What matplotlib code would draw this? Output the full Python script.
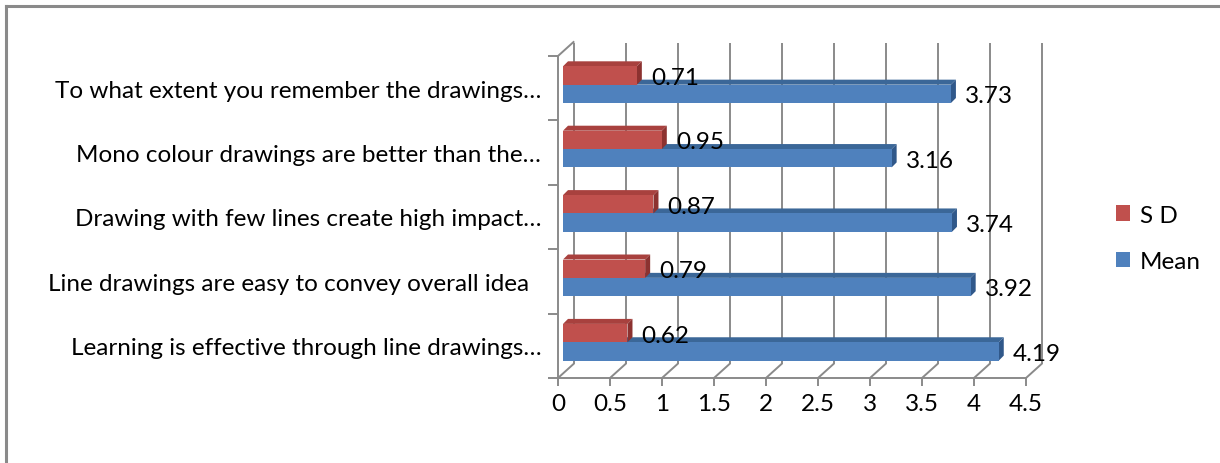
import matplotlib
matplotlib.use("Agg")
import matplotlib.pyplot as plt
from matplotlib.patches import Polygon, Patch
from matplotlib.lines import Line2D

plt.rcParams["font.family"] = ["Lato", "DejaVu Sans"]

# Survey items, bottom to top
categories = [
    "Learning is effective through line drawings\u2026",
    "Line drawings are easy to convey overall idea  ",
    "Drawing with few lines create high impact\u2026",
    "Mono colour drawings are better than the\u2026",
    "To what extent you remember the drawings\u2026",
]
mean_values = [4.19, 3.92, 3.74, 3.16, 3.73]
sd_values = [0.62, 0.79, 0.87, 0.95, 0.71]
x_ticks = [0, 0.5, 1, 1.5, 2, 2.5, 3, 3.5, 4, 4.5]
x_tick_labels = ["0", "0.5", "1", "1.5", "2", "2.5", "3", "3.5", "4", "4.5"]
series_names = ["S D", "Mean"]

FS = 17.5

W, H, DPI = 1220, 464, 100
fig = plt.figure(figsize=(W / DPI, H / DPI), dpi=DPI)
fig.patch.set_facecolor("white")

# plot area in pixels (front plane)
px_left, px_right = 558, 1026
px_top, px_bottom = 57, 379
ax = fig.add_axes([px_left / W, 1 - px_bottom / H,
                   (px_right - px_left) / W, (px_bottom - px_top) / H])
ax.set_xlim(0, 4.5)
ax.set_ylim(0, 5)
ax.set_facecolor("none")

sx = (px_right - px_left) / 4.5          # px per value unit
sy = (px_bottom - px_top) / 5.0          # px per category

# depth of the back wall and of the bars
wall_dx, wall_dy = 15.5 / sx, 14.0 / sy
bar_dx, bar_dy = 5.0 / sx, 5.0 / sy
bar_x0 = 5.0 / sx

grid_col = "#8a8a8a"
glw = 1.4

# back wall gridlines and floor diagonals
for v in x_ticks:
    ax.plot([v + wall_dx, v + wall_dx], [wall_dy, 5 + wall_dy - 0.02],
            color=grid_col, lw=glw, clip_on=False, zorder=1,
            solid_capstyle="butt")
    ax.plot([v, v + wall_dx], [0, wall_dy], color=grid_col, lw=glw,
            clip_on=False, zorder=1)
ax.plot([0, wall_dx], [5, 5 + wall_dy], color=grid_col, lw=glw,
        clip_on=False, zorder=1)

# front axis lines
for s in ["top", "right"]:
    ax.spines[s].set_visible(False)
for s in ["left", "bottom"]:
    ax.spines[s].set_color(grid_col)
    ax.spines[s].set_linewidth(glw)
    ax.spines[s].set_zorder(2)

ax.set_xticks(x_ticks)
ax.set_xticklabels(x_tick_labels, fontsize=FS)
ax.tick_params(axis="x", length=6, width=glw, color=grid_col, pad=4.5)

ax.set_yticks(range(6))
ax.set_yticklabels([])
ax.tick_params(axis="y", which="major", length=7, width=glw, color=grid_col)
ax.set_yticks([i + 0.5 for i in range(5)], minor=True)
ax.set_yticklabels(categories, minor=True, fontsize=FS)
ax.tick_params(axis="y", which="minor", length=0, pad=12)


def draw_bar(y0, h, v, front, top, side):
    x0 = bar_x0
    x1 = bar_x0 + v
    y1 = y0 + h
    ax.add_patch(Polygon([(x0, y1), (x1, y1), (x1 + bar_dx, y1 + bar_dy),
                          (x0 + bar_dx, y1 + bar_dy)], closed=True,
                         facecolor=top, edgecolor="none", zorder=3,
                         clip_on=False))
    ax.add_patch(Polygon([(x1, y0), (x1 + bar_dx, y0 + bar_dy),
                          (x1 + bar_dx, y1 + bar_dy), (x1, y1)], closed=True,
                         facecolor=side, edgecolor="none", zorder=3,
                         clip_on=False))
    ax.add_patch(Polygon([(x0, y0), (x1, y0), (x1, y1), (x0, y1)],
                         closed=True, facecolor=front, edgecolor="none",
                         zorder=3, clip_on=False))


blue = ("#4f81bd", "#3b6798", "#30588a")
red = ("#c0504d", "#a8413e", "#8c3230")
bh = 0.285
for i in range(5):
    yb = i + 0.27
    draw_bar(yb, bh, mean_values[i], *blue)
    draw_bar(yb + bh, bh, sd_values[i], *red)

for i in range(5):
    yb = i + 0.27
    ax.text(mean_values[i] + bar_x0 + bar_dx + 9 / sx, yb + bh / 2 - 0.03,
            f"{mean_values[i]:.2f}", fontsize=FS, va="center", ha="left",
            zorder=5, clip_on=False)
    ax.text(sd_values[i] + bar_x0 + bar_dx + 9 / sx, yb + 1.5 * bh - 0.03,
            f"{sd_values[i]:.2f}", fontsize=FS, va="center", ha="left",
            zorder=5, clip_on=False)

handles = [Patch(facecolor=red[0], edgecolor="none"),
           Patch(facecolor=blue[0], edgecolor="none")]
fig.legend(handles, series_names, loc="upper left",
           bbox_to_anchor=(1106 / W, 1 - 196 / H), frameon=False,
           fontsize=FS, handlelength=0.6, handleheight=0.6,
           handletextpad=0.4, labelspacing=1.05, borderaxespad=0)

# chart frame (top and left edges)
fig.add_artist(Line2D([6 / W, 6 / W], [0, 1 - 7 / H], transform=fig.transFigure,
                      color="#8a8a8a", lw=2.2))
fig.add_artist(Line2D([6 / W, 1], [1 - 7 / H, 1 - 7 / H],
                      transform=fig.transFigure, color="#8a8a8a", lw=2.2))

fig.savefig("out.png", dpi=DPI, facecolor="white")
